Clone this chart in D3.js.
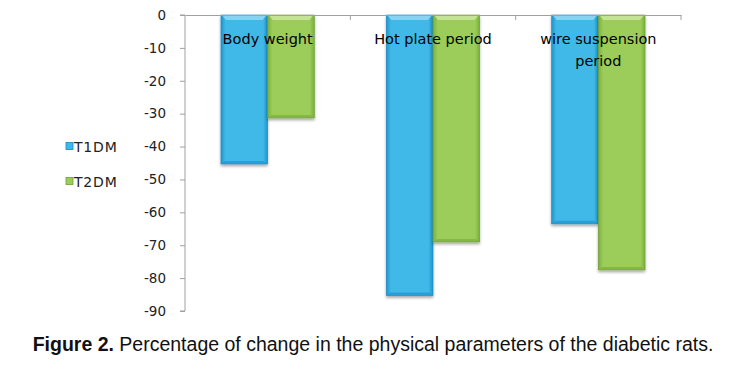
<!DOCTYPE html>
<html><head><meta charset="utf-8">
<script src="https://cdn.jsdelivr.net/npm/d3@7"></script>
<style>body{margin:0;background:#fff}svg{display:block}</style>
</head><body>
<script>
const categories = ["Body weight", "Hot plate period", "wire suspension period"];
const categoryLines = [["Body weight"], ["Hot plate period"], ["wire suspension", "period"]];
const seriesNames = ["T1DM", "T2DM"];
const t1dm = [-45.3, -85.3, -63.5];
const t2dm = [-31.3, -69, -77.5];
const yTicks = [0, -10, -20, -30, -40, -50, -60, -70, -80, -90];

const W = 746, H = 389;
const svg = d3.select("body").append("svg").attr("width", W).attr("height", H);
const defs = svg.append("defs");

const pal = [
  {mid:"#41b9e8", edge:"#1c96cf", top:"#8fd6f2", dark:"#1788c0"},
  {mid:"#9ccd5a", edge:"#7aae3c", top:"#c9e69a", dark:"#6e9e35"}
];
pal.forEach((p,i)=>{
  const g = defs.append("linearGradient").attr("id","g"+i).attr("x1","0").attr("x2","1").attr("y1","0").attr("y2","0");
  g.append("stop").attr("offset","0").attr("stop-color",p.edge);
  g.append("stop").attr("offset","0.1").attr("stop-color",p.mid);
  g.append("stop").attr("offset","0.9").attr("stop-color",p.mid);
  g.append("stop").attr("offset","1").attr("stop-color",p.edge);
});
const f = defs.append("filter").attr("id","sh").attr("x","-20%").attr("y","-5%").attr("width","140%").attr("height","115%");
f.append("feGaussianBlur").attr("in","SourceAlpha").attr("stdDeviation","1.5");
f.append("feOffset").attr("dx","0").attr("dy","2").attr("result","b");
f.append("feComponentTransfer").append("feFuncA").attr("type","linear").attr("slope","0.35");
const m = f.append("feMerge"); m.append("feMergeNode"); m.append("feMergeNode").attr("in","SourceGraphic");

const x0 = d3.scaleBand().domain(categories).range([185, 681]);
const y = d3.scaleLinear().domain([0, -90]).range([15, 311]);
const x1 = d3.scaleBand().domain(seriesNames).range([0, x0.bandwidth()]).paddingOuter(0.77);

// bars
const data = categories.map((c,i)=>({c, vals:[t1dm[i], t2dm[i]]}));
const gBars = svg.append("g");
data.forEach(d=>{
  d.vals.forEach((v,j)=>{
    const bx = x0(d.c) + x1(seriesNames[j]);
    const bw = x1.bandwidth();
    const g = gBars.append("g").attr("filter","url(#sh)");
    g.append("rect").attr("x",bx).attr("y",y(0)).attr("width",bw).attr("height",y(v)-y(0))
      .attr("fill","url(#g"+j+")").attr("stroke",pal[j].dark).attr("stroke-width",0.6);
    g.append("path").attr("d",`M${bx+1},${y(0)} L${bx+bw-1},${y(0)} L${bx+bw-5},${y(0)+5} L${bx+5},${y(0)+5} Z`)
      .attr("fill",pal[j].top).attr("opacity",0.9);
    g.append("path").attr("d",`M${bx+1},${y(v)} L${bx+bw-1},${y(v)} L${bx+bw-4},${y(v)-3} L${bx+4},${y(v)-3} Z`)
      .attr("fill",pal[j].edge).attr("opacity",0.7);
  });
});

// y axis
const yAxis = d3.axisLeft(y).tickValues(yTicks).tickSize(5).tickPadding(14).tickFormat(d3.format("d"));
const ga = svg.append("g").attr("transform","translate(185,0)").call(yAxis);
ga.select(".domain").attr("stroke","#a0a0a0").attr("d","M-5,15H0V311H-5");
ga.selectAll(".tick line").attr("stroke","#a0a0a0");
ga.selectAll(".tick text").attr("font-family","DejaVu Sans, sans-serif").attr("font-size","13.5px").attr("fill","#222").text(d=>d3.format("d")(d).replace("−","-"));

// x axis line at zero
const xAxis = d3.axisBottom(x0).tickValues([]).tickSizeOuter(0);
const gx = svg.append("g").attr("transform",`translate(0,${y(0)})`).call(xAxis);
gx.select(".domain").attr("stroke","#a0a0a0");
const bounds = categories.map(c=>x0(c)+x0.bandwidth());
gx.selectAll("line.sep").data(bounds).enter().append("line").attr("class","sep")
  .attr("x1",d=>d).attr("x2",d=>d).attr("y1",0).attr("y2",5).attr("stroke","#a0a0a0");

// category labels
const gl = svg.append("g");
categories.forEach((c,i)=>{
  const t = gl.append("text").attr("x", x0(c)+x0.bandwidth()/2).attr("y",44)
    .attr("text-anchor","middle").attr("font-family","DejaVu Sans, sans-serif").attr("font-size","14.5px").attr("fill","#000");
  categoryLines[i].forEach((ln,k)=>{
    t.append("tspan").attr("x", x0(c)+x0.bandwidth()/2).attr("dy", k===0?0:22).text(ln);
  });
});

// legend
const leg = svg.append("g");
seriesNames.forEach((s,i)=>{
  const ly = 146 + i*35;
  leg.append("rect").attr("x",66).attr("y",ly-3.5).attr("width",7).attr("height",7)
    .attr("fill",pal[i].mid).attr("stroke",pal[i].dark).attr("stroke-width",0.8);
  leg.append("text").attr("x",74).attr("y",ly+6).attr("font-family","DejaVu Sans, sans-serif")
    .attr("font-size","14px").attr("letter-spacing","0.8px").attr("fill","#222").text(s);
});

// caption
const cap = svg.append("text").attr("x",W/2).attr("y",351).attr("text-anchor","middle")
  .attr("font-family","Liberation Sans, Arial, sans-serif").attr("font-size","19.5px").attr("fill","#111");
cap.append("tspan").attr("font-weight","bold").text("Figure 2.");
cap.append("tspan").text(" Percentage of change in the physical parameters of the diabetic rats.");
</script>
</body></html>
